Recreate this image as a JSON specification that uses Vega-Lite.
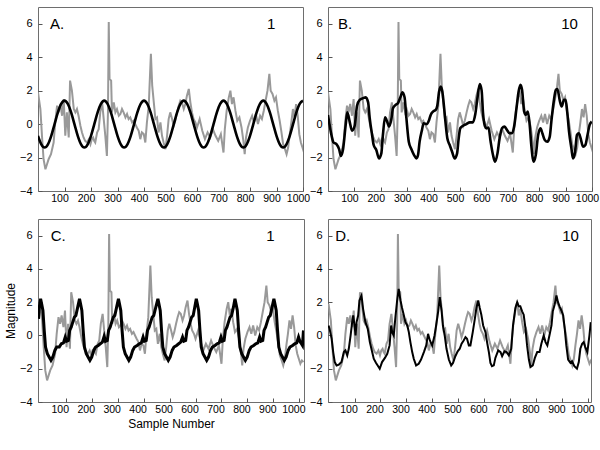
{
  "$schema": "https://vega.github.io/schema/vega-lite/v6.json",
  "padding": {"left": 3, "top": 6, "right": 5, "bottom": 5},
  "background": "white",
  "bounds": "flush",
  "spacing": {"row": 28, "column": 24},
  "columns": 2,
  "config": {
    "font": "Liberation Sans",
    "view": {"stroke": "#6e6e6e", "strokeWidth": 1},
    "axis": {
      "grid": false, "domain": false, "tickSize": -4, "tickColor": "#555", "tickCount": 30,
      "labelFontSize": 11, "labelColor": "#000", "labelFont": "Liberation Sans",
      "titleFont": "Liberation Sans", "titleFontSize": 12, "titleFontWeight": "normal", "titleColor": "#000"
    },
    "axisX": {"labelPadding": 6, "labelFontSize": 10.5},
    "axisY": {"labelPadding": 10}
  },
  "datasets": {
    "gray": [
      {"s":0,"v":1.9},{"s":9,"v":0.9},{"s":15,"v":-0.7},{"s":21,"v":-2.1},{"s":28,"v":-2.7},{"s":34,"v":-2.4},{"s":40,"v":-2.1},{"s":49,"v":-1.8},{"s":59,"v":-1.1},{"s":65,"v":0.1},{"s":72,"v":1.1},{"s":78,"v":0.7},{"s":84,"v":1.2},{"s":91,"v":0.5},{"s":97,"v":1.5},{"s":103,"v":-0.7},{"s":109,"v":0.7},{"s":116,"v":-0.8},{"s":121,"v":2.6},{"s":128,"v":2.0},{"s":135,"v":0.9},{"s":141,"v":0.7},{"s":147,"v":0.9},{"s":153,"v":0.5},{"s":160,"v":-0.1},{"s":166,"v":-0.5},{"s":172,"v":-0.8},{"s":178,"v":-1.0},{"s":185,"v":-1.1},{"s":192,"v":-0.9},{"s":198,"v":-1.2},{"s":203,"v":-0.9},{"s":208,"v":-0.8},{"s":212,"v":-1.0},{"s":216,"v":-1.1},{"s":223,"v":-0.5},{"s":229,"v":-0.3},{"s":235,"v":0.7},{"s":242,"v":1.3},{"s":248,"v":0.3},{"s":254,"v":-0.7},{"s":260,"v":-1.9},{"s":264,"v":0.7},{"s":267,"v":6.1},{"s":270,"v":2.7},{"s":276,"v":2.6},{"s":279,"v":0.7},{"s":286,"v":1.3},{"s":292,"v":0.7},{"s":298,"v":0.9},{"s":305,"v":0.5},{"s":311,"v":0.6},{"s":317,"v":0.9},{"s":323,"v":0.7},{"s":330,"v":0.4},{"s":336,"v":0.6},{"s":342,"v":0.3},{"s":348,"v":0.4},{"s":355,"v":0.1},{"s":361,"v":0.2},{"s":367,"v":0.0},{"s":373,"v":-0.2},{"s":380,"v":-0.4},{"s":386,"v":-0.9},{"s":392,"v":-0.5},{"s":399,"v":-0.6},{"s":405,"v":-1.1},{"s":411,"v":0.1},{"s":418,"v":1.1},{"s":421,"v":2.3},{"s":426,"v":4.2},{"s":431,"v":2.3},{"s":437,"v":1.3},{"s":443,"v":0.3},{"s":449,"v":0.4},{"s":455,"v":-0.5},{"s":462,"v":0.1},{"s":468,"v":-0.7},{"s":474,"v":-1.1},{"s":481,"v":-1.5},{"s":487,"v":-0.7},{"s":493,"v":0.3},{"s":499,"v":0.7},{"s":506,"v":0.3},{"s":512,"v":-0.1},{"s":518,"v":0.2},{"s":525,"v":0.7},{"s":531,"v":1.1},{"s":537,"v":1.4},{"s":543,"v":1.3},{"s":550,"v":0.9},{"s":556,"v":1.2},{"s":562,"v":1.7},{"s":569,"v":2.1},{"s":575,"v":1.3},{"s":581,"v":0.7},{"s":587,"v":0.3},{"s":594,"v":0.1},{"s":600,"v":-0.2},{"s":610,"v":0.3},{"s":620,"v":-0.4},{"s":630,"v":-0.9},{"s":640,"v":-0.5},{"s":650,"v":-0.8},{"s":660,"v":-0.3},{"s":670,"v":-0.7},{"s":680,"v":-1.0},{"s":690,"v":-0.6},{"s":700,"v":-1.7},{"s":705,"v":-0.3},{"s":712,"v":0.8},{"s":720,"v":1.6},{"s":726,"v":2.0},{"s":732,"v":1.2},{"s":738,"v":1.6},{"s":745,"v":0.8},{"s":752,"v":0.2},{"s":760,"v":0.4},{"s":768,"v":-0.2},{"s":775,"v":-1.0},{"s":780,"v":-1.8},{"s":785,"v":-0.8},{"s":792,"v":-0.2},{"s":800,"v":0.2},{"s":808,"v":0.5},{"s":815,"v":0.1},{"s":822,"v":0.6},{"s":830,"v":0.0},{"s":838,"v":0.5},{"s":845,"v":0.3},{"s":852,"v":0.8},{"s":860,"v":1.5},{"s":866,"v":2.0},{"s":873,"v":3.0},{"s":878,"v":2.0},{"s":885,"v":1.8},{"s":892,"v":1.4},{"s":898,"v":1.6},{"s":905,"v":0.8},{"s":912,"v":0.2},{"s":918,"v":-0.4},{"s":925,"v":-1.2},{"s":932,"v":-1.5},{"s":938,"v":-1.8},{"s":944,"v":-1.4},{"s":950,"v":-0.6},{"s":956,"v":0.1},{"s":962,"v":0.9},{"s":968,"v":0.4},{"s":974,"v":1.2},{"s":980,"v":0.5},{"s":986,"v":-0.6},{"s":992,"v":-1.1},{"s":998,"v":-1.4},{"s":1004,"v":-1.7},{"s":1010,"v":-1.5},{"s":1016,"v":-1.6}
    ],
    "blackA": [
      {"s":0,"v":-0.7},{"s":12.5,"v":-1.21},{"s":25,"v":-1.4},{"s":37.5,"v":-1.21},{"s":50,"v":-0.7},{"s":62.5,"v":0},{"s":75,"v":0.7},{"s":87.5,"v":1.21},{"s":100,"v":1.4},{"s":112.5,"v":1.21},{"s":125,"v":0.7},{"s":137.5,"v":0},
      {"s":150,"v":-0.7},{"s":162.5,"v":-1.21},{"s":175,"v":-1.4},{"s":187.5,"v":-1.21},{"s":200,"v":-0.7},{"s":212.5,"v":0},{"s":225,"v":0.7},{"s":237.5,"v":1.21},{"s":250,"v":1.4},{"s":262.5,"v":1.21},{"s":275,"v":0.7},{"s":287.5,"v":0},
      {"s":300,"v":-0.7},{"s":312.5,"v":-1.21},{"s":325,"v":-1.4},{"s":337.5,"v":-1.21},{"s":350,"v":-0.7},{"s":362.5,"v":0},{"s":375,"v":0.7},{"s":387.5,"v":1.21},{"s":400,"v":1.4},{"s":412.5,"v":1.21},{"s":425,"v":0.7},{"s":437.5,"v":0},
      {"s":450,"v":-0.7},{"s":462.5,"v":-1.21},{"s":475,"v":-1.4},{"s":487.5,"v":-1.21},{"s":500,"v":-0.7},{"s":512.5,"v":0},{"s":525,"v":0.7},{"s":537.5,"v":1.21},{"s":550,"v":1.4},{"s":562.5,"v":1.21},{"s":575,"v":0.7},{"s":587.5,"v":0},
      {"s":600,"v":-0.7},{"s":612.5,"v":-1.21},{"s":625,"v":-1.4},{"s":637.5,"v":-1.21},{"s":650,"v":-0.7},{"s":662.5,"v":0},{"s":675,"v":0.7},{"s":687.5,"v":1.21},{"s":700,"v":1.4},{"s":712.5,"v":1.21},{"s":725,"v":0.7},{"s":737.5,"v":0},
      {"s":750,"v":-0.7},{"s":762.5,"v":-1.21},{"s":775,"v":-1.4},{"s":787.5,"v":-1.21},{"s":800,"v":-0.7},{"s":812.5,"v":0},{"s":825,"v":0.7},{"s":837.5,"v":1.21},{"s":850,"v":1.4},{"s":862.5,"v":1.21},{"s":875,"v":0.7},{"s":887.5,"v":0},
      {"s":900,"v":-0.7},{"s":912.5,"v":-1.21},{"s":925,"v":-1.4},{"s":937.5,"v":-1.21},{"s":950,"v":-0.7},{"s":962.5,"v":0},{"s":975,"v":0.7},{"s":987.5,"v":1.21},{"s":1000,"v":1.4}
    ],
    "blackB": [
      {"s":0,"v":0.55},{"s":13,"v":-0.65},{"s":21,"v":-1.1},{"s":32,"v":-1.2},{"s":42,"v":-1.5},{"s":49,"v":-1.9},{"s":57,"v":-1.5},{"s":67,"v":-0.05},{"s":73,"v":0.7},{"s":82,"v":0.15},{"s":91,"v":-0.4},{"s":101,"v":-0.1},{"s":110,"v":1.1},{"s":120,"v":1.45},{"s":133,"v":1.55},{"s":143,"v":1.6},{"s":152,"v":1.3},{"s":158,"v":0.35},{"s":167,"v":-0.65},{"s":173,"v":-1.25},{"s":183,"v":-1.55},{"s":193,"v":-2.05},{"s":202,"v":-1.75},{"s":208,"v":-0.65},{"s":216,"v":0.4},{"s":225,"v":0.1},{"s":231,"v":-0.15},{"s":240,"v":0.3},{"s":246,"v":0.95},{"s":256,"v":1.15},{"s":265,"v":1.25},{"s":274,"v":1.6},{"s":282,"v":1.9},{"s":290,"v":1.6},{"s":297,"v":0.35},{"s":306,"v":-1.05},{"s":316,"v":-1.5},{"s":326,"v":-1.85},{"s":335,"v":-2.05},{"s":341,"v":-1.85},{"s":347,"v":-1.05},{"s":356,"v":-0.35},{"s":362,"v":0.05},{"s":373,"v":0.0},{"s":383,"v":0.25},{"s":389,"v":0.55},{"s":398,"v":0.75},{"s":408,"v":0.85},{"s":414,"v":1.1},{"s":421,"v":1.95},{"s":427,"v":2.25},{"s":433,"v":1.95},{"s":440,"v":0.95},{"s":446,"v":-0.05},{"s":452,"v":-0.85},{"s":461,"v":-1.25},{"s":470,"v":-1.65},{"s":480,"v":-2.05},{"s":489,"v":-1.75},{"s":495,"v":-0.85},{"s":501,"v":-0.25},{"s":512,"v":-0.1},{"s":524,"v":0.0},{"s":537,"v":0.1},{"s":549,"v":0.1},{"s":558,"v":0.6},{"s":566,"v":1.55},{"s":575,"v":2.4},{"s":582,"v":2.0},{"s":587,"v":0.7},{"s":594,"v":-0.1},{"s":600,"v":-0.25},{"s":608,"v":-0.2},{"s":616,"v":-1.05},{"s":625,"v":-1.85},{"s":633,"v":-2.25},{"s":642,"v":-1.75},{"s":650,"v":-0.85},{"s":659,"v":-0.25},{"s":669,"v":-0.15},{"s":678,"v":-0.35},{"s":688,"v":-0.55},{"s":697,"v":-0.55},{"s":705,"v":-0.15},{"s":714,"v":0.95},{"s":722,"v":1.95},{"s":729,"v":2.35},{"s":735,"v":2.05},{"s":743,"v":0.75},{"s":749,"v":0.55},{"s":757,"v":0.75},{"s":764,"v":-0.05},{"s":770,"v":-1.25},{"s":779,"v":-2.25},{"s":787,"v":-1.85},{"s":796,"v":-0.65},{"s":805,"v":-0.25},{"s":812,"v":-0.55},{"s":821,"v":-0.95},{"s":831,"v":-1.05},{"s":840,"v":-0.75},{"s":846,"v":0.15},{"s":855,"v":1.35},{"s":863,"v":2.05},{"s":869,"v":2.1},{"s":878,"v":1.4},{"s":885,"v":1.05},{"s":894,"v":1.45},{"s":900,"v":1.45},{"s":906,"v":0.75},{"s":913,"v":-0.45},{"s":922,"v":-1.45},{"s":928,"v":-2.05},{"s":936,"v":-1.65},{"s":943,"v":-0.65},{"s":950,"v":-0.55},{"s":957,"v":-0.85},{"s":966,"v":-1.35},{"s":975,"v":-1.25},{"s":983,"v":-0.65},{"s":991,"v":-0.05},{"s":999,"v":0.15}
    ],
    "blackC": [
      {"s":-5,"v":1.0},{"s":-2,"v":1.7},{"s":3,"v":2.2},{"s":7,"v":1.9},{"s":12,"v":1.5},{"s":17,"v":0.3},{"s":22,"v":-0.7},{"s":29,"v":-1.1},{"s":36,"v":-1.3},{"s":43,"v":-1.5},{"s":50,"v":-1.3},{"s":58,"v":-0.9},{"s":65,"v":-0.7},{"s":75,"v":-0.7},{"s":83,"v":-0.5},{"s":91,"v":-0.45},{"s":98,"v":-0.1},{"s":103,"v":-0.35},{"s":110,"v":-0.3},{"s":115,"v":0.3},{"s":121,"v":0.5},{"s":127,"v":0.8},{"s":133,"v":1.1},{"s":139,"v":1.2},{"s":146,"v":1.7},{"s":153,"v":2.2},
      {"s":157,"v":1.9},{"s":162,"v":1.5},{"s":167,"v":0.3},{"s":172,"v":-0.7},{"s":179,"v":-1.1},{"s":186,"v":-1.3},{"s":193,"v":-1.5},{"s":200,"v":-1.3},{"s":208,"v":-0.9},{"s":215,"v":-0.7},{"s":225,"v":-0.6},{"s":233,"v":-0.5},{"s":241,"v":-0.4},{"s":248,"v":-0.05},{"s":253,"v":-0.35},{"s":260,"v":-0.3},{"s":265,"v":0.3},{"s":271,"v":0.5},{"s":277,"v":0.8},{"s":283,"v":1.1},{"s":289,"v":1.2},{"s":296,"v":1.7},{"s":303,"v":2.2},
      {"s":307,"v":1.9},{"s":312,"v":1.5},{"s":317,"v":0.3},{"s":322,"v":-0.7},{"s":329,"v":-1.1},{"s":336,"v":-1.3},{"s":343,"v":-1.5},{"s":350,"v":-1.3},{"s":358,"v":-0.9},{"s":365,"v":-0.7},{"s":375,"v":-0.6},{"s":383,"v":-0.5},{"s":391,"v":-0.45},{"s":398,"v":-0.1},{"s":403,"v":-0.35},{"s":410,"v":-0.3},{"s":415,"v":0.3},{"s":421,"v":0.5},{"s":427,"v":0.8},{"s":433,"v":1.1},{"s":439,"v":1.2},{"s":447,"v":1.7},{"s":455,"v":2.2},
      {"s":459,"v":1.9},{"s":464,"v":1.5},{"s":469,"v":0.3},{"s":474,"v":-0.7},{"s":481,"v":-1.1},{"s":488,"v":-1.3},{"s":495,"v":-1.5},{"s":502,"v":-1.3},{"s":510,"v":-0.9},{"s":517,"v":-0.7},{"s":527,"v":-0.6},{"s":535,"v":-0.5},{"s":543,"v":-0.4},{"s":550,"v":-0.1},{"s":555,"v":-0.35},{"s":562,"v":-0.3},{"s":567,"v":0.3},{"s":573,"v":0.5},{"s":579,"v":0.8},{"s":585,"v":1.1},{"s":591,"v":1.2},{"s":597,"v":1.7},{"s":603,"v":2.2},
      {"s":607,"v":1.9},{"s":612,"v":1.5},{"s":617,"v":0.3},{"s":622,"v":-0.7},{"s":629,"v":-1.1},{"s":636,"v":-1.3},{"s":643,"v":-1.5},{"s":650,"v":-1.3},{"s":658,"v":-0.9},{"s":665,"v":-0.7},{"s":675,"v":-0.6},{"s":683,"v":-0.5},{"s":691,"v":-0.45},{"s":698,"v":-0.1},{"s":703,"v":-0.35},{"s":710,"v":-0.3},{"s":715,"v":0.3},{"s":721,"v":0.5},{"s":727,"v":0.8},{"s":733,"v":1.1},{"s":739,"v":1.2},{"s":746,"v":1.7},{"s":752,"v":2.2},
      {"s":756,"v":1.9},{"s":761,"v":1.5},{"s":766,"v":0.3},{"s":771,"v":-0.7},{"s":778,"v":-1.1},{"s":785,"v":-1.3},{"s":792,"v":-1.5},{"s":799,"v":-1.3},{"s":807,"v":-0.9},{"s":814,"v":-0.7},{"s":824,"v":-0.6},{"s":832,"v":-0.5},{"s":840,"v":-0.45},{"s":847,"v":-0.1},{"s":852,"v":-0.35},{"s":859,"v":-0.3},{"s":864,"v":0.3},{"s":870,"v":0.5},{"s":876,"v":0.8},{"s":882,"v":1.1},{"s":888,"v":1.2},{"s":895,"v":1.7},{"s":902,"v":2.2},
      {"s":906,"v":1.9},{"s":911,"v":1.5},{"s":916,"v":0.3},{"s":921,"v":-0.7},{"s":928,"v":-1.1},{"s":935,"v":-1.3},{"s":942,"v":-1.5},{"s":949,"v":-1.3},{"s":957,"v":-0.9},{"s":964,"v":-0.7},{"s":974,"v":-0.6},{"s":982,"v":-0.5},{"s":990,"v":-0.45},{"s":997,"v":-0.1},{"s":1002,"v":-0.35},{"s":1008,"v":-0.5},{"s":1012,"v":-0.6},{"s":1016,"v":0.3}
    ],
    "blackD": [
      {"s":0,"v":0.6},{"s":4,"v":0.4},{"s":12,"v":-0.2},{"s":18,"v":-1.0},{"s":24,"v":-1.6},{"s":31,"v":-1.8},{"s":40,"v":-1.75},{"s":50,"v":-1.6},{"s":59,"v":-1.0},{"s":65,"v":-0.9},{"s":72,"v":-1.2},{"s":78,"v":-0.8},{"s":85,"v":0.0},{"s":91,"v":0.8},{"s":95,"v":1.2},{"s":100,"v":0.6},{"s":104,"v":0.0},{"s":108,"v":0.8},{"s":114,"v":1.2},{"s":119,"v":2.1},{"s":127,"v":2.4},{"s":133,"v":1.6},{"s":142,"v":0.8},{"s":151,"v":0.4},{"s":159,"v":-0.4},{"s":168,"v":-1.0},{"s":174,"v":-1.4},{"s":183,"v":-1.65},{"s":191,"v":-1.85},{"s":197,"v":-2.0},{"s":206,"v":-1.6},{"s":217,"v":-1.35},{"s":226,"v":-1.1},{"s":235,"v":-0.6},{"s":241,"v":0.6},{"s":245,"v":0.2},{"s":251,"v":0.0},{"s":258,"v":1.2},{"s":264,"v":2.1},{"s":270,"v":2.8},{"s":277,"v":2.1},{"s":283,"v":1.65},{"s":290,"v":1.2},{"s":296,"v":0.8},{"s":303,"v":0.6},{"s":309,"v":0.2},{"s":315,"v":-0.4},{"s":322,"v":-1.0},{"s":328,"v":-1.4},{"s":337,"v":-1.8},{"s":347,"v":-1.7},{"s":356,"v":-1.45},{"s":367,"v":-1.0},{"s":376,"v":-0.6},{"s":383,"v":0.1},{"s":390,"v":-0.3},{"s":399,"v":-0.6},{"s":408,"v":0.0},{"s":414,"v":0.6},{"s":422,"v":1.45},{"s":428,"v":2.3},{"s":435,"v":1.5},{"s":440,"v":0.6},{"s":447,"v":0.0},{"s":454,"v":-0.8},{"s":463,"v":-1.45},{"s":472,"v":-1.8},{"s":479,"v":-1.65},{"s":488,"v":-1.25},{"s":497,"v":-0.95},{"s":505,"v":-0.8},{"s":512,"v":-0.5},{"s":520,"v":-0.3},{"s":527,"v":-0.1},{"s":533,"v":-0.2},{"s":540,"v":-0.6},{"s":546,"v":-0.6},{"s":555,"v":0.2},{"s":563,"v":1.0},{"s":569,"v":1.65},{"s":576,"v":2.1},{"s":582,"v":1.65},{"s":588,"v":1.25},{"s":595,"v":0.6},{"s":604,"v":0.2},{"s":610,"v":-0.4},{"s":617,"v":-1.0},{"s":623,"v":-1.65},{"s":629,"v":-1.85},{"s":636,"v":-1.8},{"s":642,"v":-1.35},{"s":653,"v":-0.9},{"s":662,"v":-1.0},{"s":668,"v":-1.25},{"s":677,"v":-0.95},{"s":685,"v":-1.0},{"s":694,"v":-1.2},{"s":703,"v":-0.8},{"s":710,"v":0.6},{"s":719,"v":1.65},{"s":726,"v":2.0},{"s":732,"v":1.75},{"s":738,"v":1.75},{"s":745,"v":1.45},{"s":751,"v":1.25},{"s":758,"v":0.4},{"s":764,"v":-0.6},{"s":771,"v":-1.45},{"s":777,"v":-1.9},{"s":786,"v":-1.8},{"s":794,"v":-1.35},{"s":803,"v":-1.0},{"s":812,"v":-1.0},{"s":819,"v":-0.5},{"s":828,"v":0.0},{"s":835,"v":-0.4},{"s":842,"v":-0.6},{"s":850,"v":0.0},{"s":858,"v":0.6},{"s":863,"v":1.45},{"s":870,"v":1.85},{"s":877,"v":2.4},{"s":883,"v":2.0},{"s":890,"v":1.7},{"s":896,"v":1.5},{"s":903,"v":1.2},{"s":909,"v":0.4},{"s":915,"v":-0.6},{"s":922,"v":-1.45},{"s":931,"v":-1.65},{"s":937,"v":-1.55},{"s":946,"v":-1.85},{"s":956,"v":-2.0},{"s":963,"v":-1.6},{"s":969,"v":-0.8},{"s":976,"v":-0.5},{"s":982,"v":-0.4},{"s":988,"v":-0.7},{"s":996,"v":-1.0},{"s":1004,"v":0.0},{"s":1009,"v":0.8}
    ]
  },
  "concat": [
    {
      "width": 265, "height": 184,
      "layer": [
        {"data": {"name": "gray"}, "mark": {"type": "line", "color": "#999999", "strokeWidth": 2, "clip": true},
         "encoding": {
           "x": {"field": "s", "type": "quantitative", "scale": {"domain": [0, 1000], "nice": false}, "axis": {"values": [100,200,300,400,500,600,700,800,900,1000], "format": "d", "tickCount": 30, "title": null, "labelOverlap": false, "labelBound": false, "labelFlush": false, "labelOffset": -5}},
           "y": {"field": "v", "type": "quantitative", "scale": {"domain": [-4, 7], "nice": false, "zero": false}, "axis": {"values": [-4,-2,0,2,4,6], "format": "d", "tickCount": 30, "title": null, "labelOverlap": false}}
         }},
        {"data": {"name": "blackA"}, "mark": {"type": "line", "color": "#000", "strokeWidth": 2.6, "interpolate": "monotone", "clip": true},
         "encoding": {"x": {"field": "s", "type": "quantitative"}, "y": {"field": "v", "type": "quantitative"}}},
        {"data": {"values": [{}]}, "mark": {"type": "text", "text": "A.", "align": "left", "baseline": "middle", "fontSize": 15},
         "encoding": {"x": {"datum": 45}, "y": {"datum": 6.0}}},
        {"data": {"values": [{}]}, "mark": {"type": "text", "text": "1", "align": "center", "baseline": "middle", "fontSize": 15},
         "encoding": {"x": {"datum": 880}, "y": {"datum": 6.0}}}
      ]
    },
    {
      "width": 264, "height": 184,
      "layer": [
        {"data": {"name": "gray"}, "mark": {"type": "line", "color": "#999999", "strokeWidth": 2, "clip": true},
         "encoding": {
           "x": {"field": "s", "type": "quantitative", "scale": {"domain": [0, 1000], "nice": false}, "axis": {"values": [100,200,300,400,500,600,700,800,900,1000], "format": "d", "tickCount": 30, "title": null, "labelOverlap": false, "labelBound": false, "labelFlush": false, "labelOffset": -5}},
           "y": {"field": "v", "type": "quantitative", "scale": {"domain": [-4, 7], "nice": false, "zero": false}, "axis": {"values": [-4,-2,0,2,4,6], "format": "d", "tickCount": 30, "title": null, "labelOverlap": false}}
         }},
        {"data": {"name": "blackB"}, "mark": {"type": "line", "color": "#000", "strokeWidth": 2.6, "interpolate": "monotone", "clip": true},
         "encoding": {"x": {"field": "s", "type": "quantitative"}, "y": {"field": "v", "type": "quantitative"}}},
        {"data": {"values": [{}]}, "mark": {"type": "text", "text": "B.", "align": "left", "baseline": "middle", "fontSize": 15},
         "encoding": {"x": {"datum": 38}, "y": {"datum": 6.0}}},
        {"data": {"values": [{}]}, "mark": {"type": "text", "text": "10", "align": "center", "baseline": "middle", "fontSize": 15},
         "encoding": {"x": {"datum": 915}, "y": {"datum": 6.0}}}
      ]
    },
    {
      "width": 266, "height": 183,
      "layer": [
        {"data": {"name": "gray"}, "mark": {"type": "line", "color": "#999999", "strokeWidth": 2, "clip": true},
         "encoding": {
           "x": {"field": "s", "type": "quantitative", "scale": {"domain": [-7, 1018], "nice": false}, "axis": {"values": [100,200,300,400,500,600,700,800,900,1000], "format": "d", "tickCount": 30, "title": "Sample Number", "labelOffset": -6, "titlePadding": 4, "labelOverlap": false, "labelBound": false, "labelFlush": false}},
           "y": {"field": "v", "type": "quantitative", "scale": {"domain": [-4, 7], "nice": false, "zero": false}, "axis": {"values": [-4,-2,0,2,4,6], "format": "d", "tickCount": 30, "title": "Magnitude", "titlePadding": 2, "labelOverlap": false}}
         }},
        {"data": {"name": "blackC"}, "mark": {"type": "line", "color": "#000", "strokeWidth": 3, "clip": true},
         "encoding": {"x": {"field": "s", "type": "quantitative"}, "y": {"field": "v", "type": "quantitative"}}},
        {"data": {"values": [{}]}, "mark": {"type": "text", "text": "C.", "align": "left", "baseline": "middle", "fontSize": 15},
         "encoding": {"x": {"datum": 42}, "y": {"datum": 6.0}}},
        {"data": {"values": [{}]}, "mark": {"type": "text", "text": "1", "align": "center", "baseline": "middle", "fontSize": 15},
         "encoding": {"x": {"datum": 889}, "y": {"datum": 6.0}}}
      ]
    },
    {
      "width": 263, "height": 183,
      "layer": [
        {"data": {"name": "gray"}, "mark": {"type": "line", "color": "#999999", "strokeWidth": 2, "clip": true},
         "encoding": {
           "x": {"field": "s", "type": "quantitative", "scale": {"domain": [-2, 1010], "nice": false}, "axis": {"values": [100,200,300,400,500,600,700,800,900,1000], "format": "d", "tickCount": 30, "title": null, "labelOffset": -6, "labelOverlap": false, "labelBound": false, "labelFlush": false}},
           "y": {"field": "v", "type": "quantitative", "scale": {"domain": [-4, 7], "nice": false, "zero": false}, "axis": {"values": [-4,-2,0,2,4,6], "format": "d", "tickCount": 30, "title": null, "labelOverlap": false}}
         }},
        {"data": {"name": "blackD"}, "mark": {"type": "line", "color": "#000", "strokeWidth": 2, "clip": true},
         "encoding": {"x": {"field": "s", "type": "quantitative"}, "y": {"field": "v", "type": "quantitative"}}},
        {"data": {"values": [{}]}, "mark": {"type": "text", "text": "D.", "align": "left", "baseline": "middle", "fontSize": 15},
         "encoding": {"x": {"datum": 26}, "y": {"datum": 6.0}}},
        {"data": {"values": [{}]}, "mark": {"type": "text", "text": "10", "align": "center", "baseline": "middle", "fontSize": 15},
         "encoding": {"x": {"datum": 931}, "y": {"datum": 6.0}}}
      ]
    }
  ]
}
